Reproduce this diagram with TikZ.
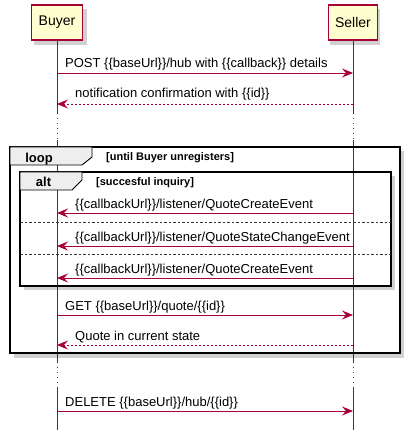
\documentclass[tikz,border=0pt]{standalone}
\usepackage{fontspec}
\setmainfont{Liberation Sans}
\usetikzlibrary{arrows.meta}
\usetikzlibrary{calc}

\definecolor{umlred}{HTML}{A80036}
\definecolor{umlfill}{HTML}{FEFECE}
\definecolor{tabgray}{HTML}{EEEEEE}
\newcommand{\tmpl}[1]{\{\{#1\}\}}

\begin{document}
\begin{tikzpicture}[x=1pt, y=-1pt,
    actor/.style={draw=umlred, fill=umlfill, line width=1.1pt, inner xsep=7pt, minimum height=35pt, font=\fontsize{14}{16}\selectfont},
    shade/.style={black, opacity=0.18},
    life/.style={umlred, line width=0.9pt},
    gap/.style={umlred, line width=0.9pt, dash pattern=on 1pt off 4pt},
    msg/.style={umlred, line width=0.9pt, -{Stealth[length=11pt, width=9pt, inset=4pt]}},
    reply/.style={msg, dash pattern=on 2pt off 2pt},
    label/.style={anchor=base west, inner sep=0pt, font=\fontsize{13}{15}\selectfont},
    frame/.style={black, line width=1.6pt},
    tab/.style={draw=black, fill=tabgray, line width=0.9pt},
    tabtext/.style={anchor=base, inner sep=0pt, font=\fontsize{13}{15}\selectfont\bfseries},
    guard/.style={anchor=base west, inner sep=0pt, font=\fontsize{11}{13}\selectfont\bfseries},
    sep/.style={black!80, line width=0.8pt, dash pattern=on 2.5pt off 2pt}]
            \useasboundingbox (0,0) rectangle (413,435);
            % shadows and frame backgrounds
            \fill[shade] (14,151) rectangle (404,358);
            \fill[white] (10,147) rectangle (400,353);
            \fill[shade] (24,176) rectangle (395,290);
            \fill[white] (20,172) rectangle (391,286);
            \fill[shade] (34,9) rectangle (87,45);
            \fill[shade] (330,9) rectangle (380,45);
            % participants
            \node[actor] (buyer) at (57,22.5) {Buyer};
            \node[actor] (seller) at (353,22.5) {Seller};
            % message levels
            \coordinate (y1) at (0,73);
            \coordinate (y2) at (0,104);
            \coordinate (y3) at (0,213);
            \coordinate (y4) at (0,246);
            \coordinate (y5) at (0,278);
            \coordinate (y6) at (0,315);
            \coordinate (y7) at (0,345);
            \coordinate (y8) at (0,411);
            \coordinate (d1a) at (0,113);
            \coordinate (d1b) at (0,140);
            \coordinate (d2a) at (0,362);
            \coordinate (d2b) at (0,388);
            \coordinate (end) at (0,430);
            % lifelines
            \draw[life] (buyer.south) -- (buyer |- d1a);
            \draw[gap] (buyer |- d1a) -- (buyer |- d1b);
            \draw[life] (buyer |- d1b) -- (buyer |- d2a);
            \draw[gap] (buyer |- d2a) -- (buyer |- d2b);
            \draw[life] (buyer |- d2b) -- (buyer |- end);
            \draw[life] (seller.south) -- (seller |- d1a);
            \draw[gap] (seller |- d1a) -- (seller |- d1b);
            \draw[life] (seller |- d1b) -- (seller |- d2a);
            \draw[gap] (seller |- d2a) -- (seller |- d2b);
            \draw[life] (seller |- d2b) -- (seller |- end);
            % loop and alt frames
            \draw[frame] (10,147) rectangle (400,353);
            \filldraw[tab] (10,147) -- (92,147) -- (92,157) -- (82,165) -- (10,165) -- cycle;
            \node[tabtext] (looplabel) at (39,163) {loop};
            \node[guard] (loopguard) at (106,161) {[until Buyer unregisters]};
            \draw[frame] (20,172) rectangle (391,286);
            \filldraw[tab] (20,172) -- (82,172) -- (82,180) -- (72,190) -- (20,190) -- cycle;
            \node[tabtext] (altlabel) at (43.5,187) {alt};
            \node[guard] (altguard) at (96,186) {[succesful inquiry]};
            \draw[sep] (20,222) -- (391,222);
            \draw[sep] (20,254) -- (391,254);
            % messages
            \node[label] (t1) at (65,68) {POST \tmpl{baseUrl}/hub with \tmpl{callback} details};
            \draw[msg] (buyer |- y1) -- (seller |- y1);
            \node[label] (t2) at (75,98) {notification confirmation with \tmpl{id}};
            \draw[reply] (seller |- y2) -- (buyer |- y2);
            \node[label] (t3) at (75,208) {\tmpl{callbackUrl}/listener/QuoteCreateEvent};
            \draw[msg] (seller |- y3) -- (buyer |- y3);
            \node[label] (t4) at (75,241) {\tmpl{callbackUrl}/listener/QuoteStateChangeEvent};
            \draw[msg] (seller |- y4) -- (buyer |- y4);
            \node[label] (t5) at (75,273) {\tmpl{callbackUrl}/listener/QuoteCreateEvent};
            \draw[msg] (seller |- y5) -- (buyer |- y5);
            \node[label] (t6) at (65,310) {GET \tmpl{baseUrl}/quote/\tmpl{id}};
            \draw[msg] (buyer |- y6) -- (seller |- y6);
            \node[label] (t7) at (75,340) {Quote in current state};
            \draw[reply] (seller |- y7) -- (buyer |- y7);
            \node[label] (t8) at (65,406) {DELETE \tmpl{baseUrl}/hub/\tmpl{id}};
            \draw[msg] (buyer |- y8) -- (seller |- y8);
        \end{tikzpicture}
\end{document}
